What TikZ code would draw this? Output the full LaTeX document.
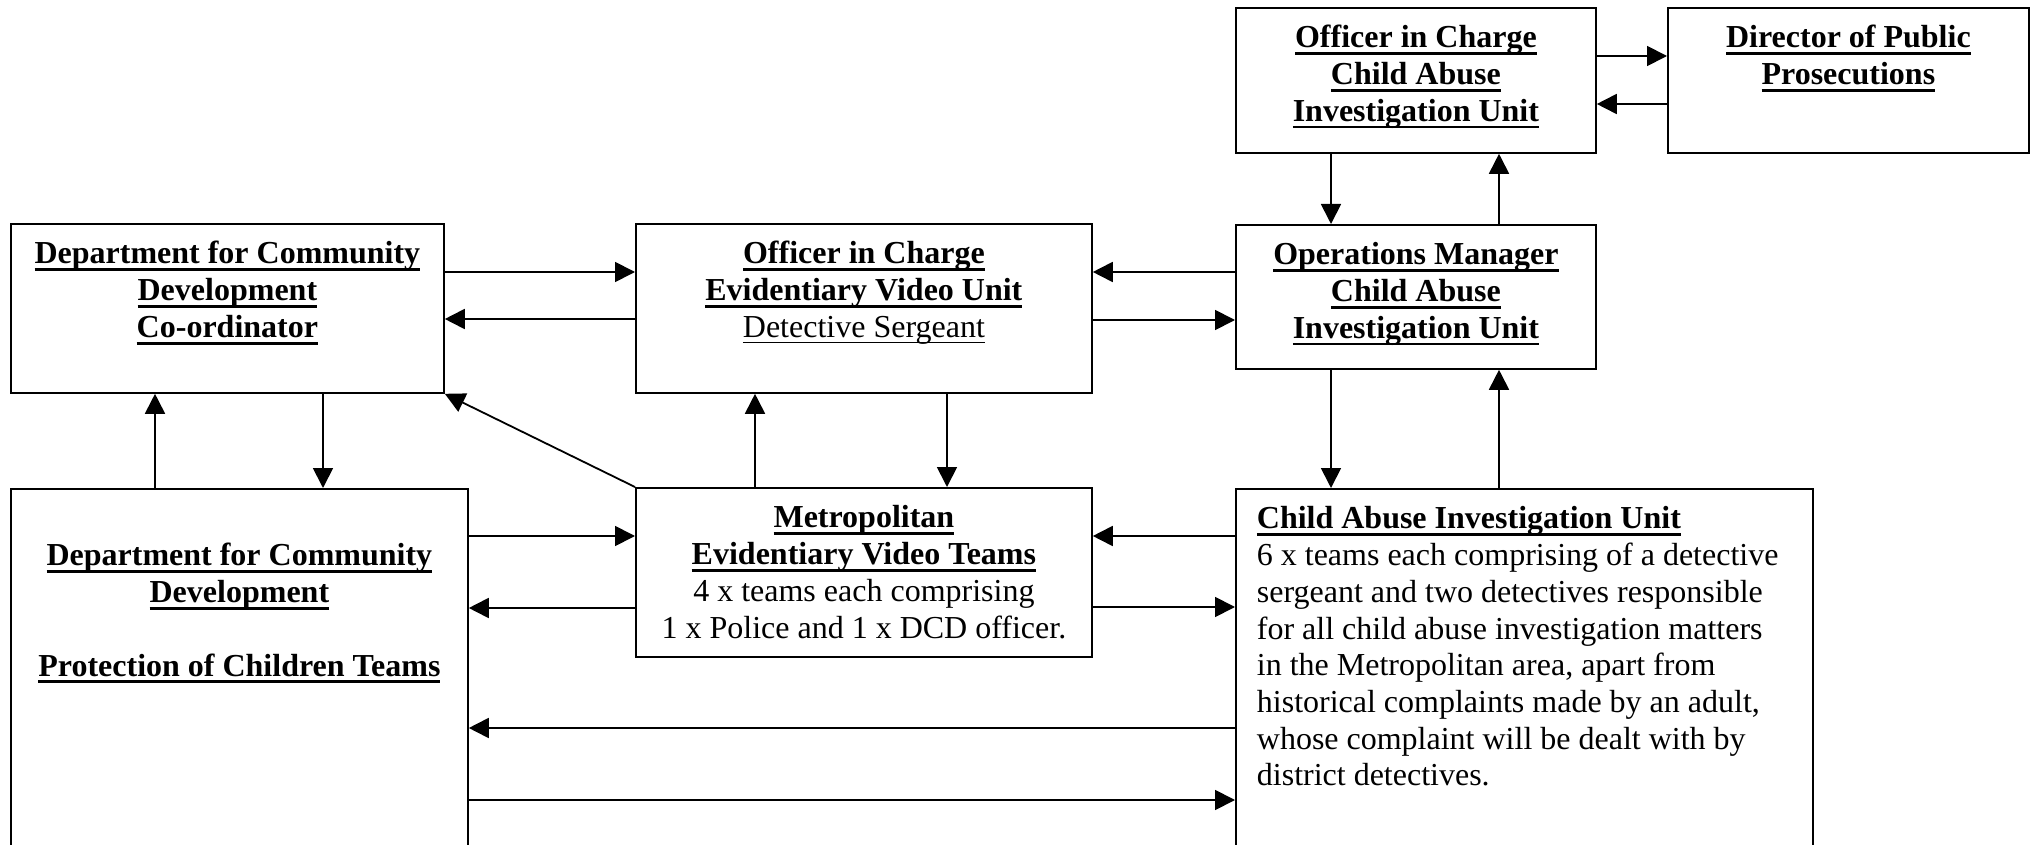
\documentclass[tikz,border=0pt]{standalone}
\usepackage{fontspec}
\setmainfont{Liberation Serif}
\usetikzlibrary{arrows.meta}
\newcommand\ulb[1]{\setbox0\hbox{\bfseries #1}\rlap{\rule[-3.6pt]{\wd0}{1.4pt}}\box0}
\newcommand\uln[1]{\setbox0\hbox{#1}\rlap{\rule[-3pt]{\wd0}{0.7pt}}\box0}
\newcommand\tcline[1]{\hbox to\hsize{\hss#1\hss}}
\newcommand\tlline[1]{\hbox to\hsize{\hskip10.5pt #1\hss}}
\newcommand\boxtxt[4]{\vbox to #2{\hsize=#1\relax\fontsize{16}{18.35}\selectfont
  \baselineskip=18.35pt\lineskiplimit=-1000pt\hbox{}\vskip#3\relax #4\vss}}
\begin{document}
\begin{tikzpicture}[x=0.5pt,y=-0.5pt,
  box/.style={draw, line width=0.9pt, inner sep=0pt, anchor=north west},
  arr/.style={line width=0.9pt, -{Triangle[length=10pt,width=10pt]}}]
\useasboundingbox (0,0) rectangle (2031,845);
\clip (0,0) rectangle (2031,845);

\node[box] (oicc) at (1235,7) {\boxtxt{180pt}{72.5pt}{1.65pt}{%
  \tcline{\ulb{Officer in Charge}}\tcline{\ulb{Child Abuse}}\tcline{\ulb{Investigation Unit}}}};
\node[box] (dpp) at (1667,7) {\boxtxt{180.5pt}{72.5pt}{1.65pt}{%
  \tcline{\ulb{Director of Public}}\tcline{\ulb{Prosecutions}}}};
\node[box] (dcdc) at (10,223) {\boxtxt{216.5pt}{84.5pt}{1.65pt}{%
  \tcline{\ulb{Department for Community}}\tcline{\ulb{Development}}\tcline{\ulb{Co-ordinator}}}};
\node[box] (evu) at (635,223) {\boxtxt{228pt}{84.5pt}{1.65pt}{%
  \tcline{\ulb{Officer in Charge}}\tcline{\ulb{Evidentiary Video Unit}}\tcline{\uln{Detective Sergeant}}}};
\node[box] (ops) at (1235,224) {\boxtxt{180pt}{72pt}{1.65pt}{%
  \tcline{\ulb{Operations Manager}}\tcline{\ulb{Child Abuse}}\tcline{\ulb{Investigation Unit}}}};
\node[box] (pct) at (10,488) {\boxtxt{228.5pt}{181pt}{20.15pt}{%
  \tcline{\ulb{Department for Community}}\tcline{\ulb{Development}}\tcline{}\tcline{\ulb{Protection of Children Teams}}}};
\node[box] (evt) at (635,487) {\boxtxt{228pt}{84.5pt}{1.65pt}{%
  \tcline{\ulb{Metropolitan}}\tcline{\ulb{Evidentiary Video Teams}}\tcline{4 x teams each comprising}\tcline{1 x Police and 1 x DCD officer.}}};
\node[box] (caiu) at (1235,488) {\boxtxt{288.5pt}{181pt}{1.65pt}{%
  \tlline{\ulb{Child Abuse Investigation Unit}}
  \tlline{6 x teams each comprising of a detective}
  \tlline{sergeant and two detectives responsible}
  \tlline{for all child abuse investigation matters}
  \tlline{in the Metropolitan area, apart from}
  \tlline{historical complaints made by an adult,}
  \tlline{whose complaint will be dealt with by}
  \tlline{district detectives.}}};

% top right
\draw[arr] (oicc.east |- 0,56) -- (dpp.west |- 0,56);
\draw[arr] (dpp.west |- 0,104) -- (oicc.east |- 0,104);
\draw[arr] (oicc.south -| 1331,0) -- (ops.north -| 1331,0);
\draw[arr] (ops.north -| 1499,0) -- (oicc.south -| 1499,0);
% middle row
\draw[arr] (dcdc.east |- 0,272) -- (evu.west |- 0,272);
\draw[arr] (evu.west |- 0,319) -- (dcdc.east |- 0,319);
\draw[arr] (ops.west |- 0,272) -- (evu.east |- 0,272);
\draw[arr] (evu.east |- 0,320) -- (ops.west |- 0,320);
% verticals
\draw[arr] (pct.north -| 155,0) -- (dcdc.south -| 155,0);
\draw[arr] (dcdc.south -| 323,0) -- (pct.north -| 323,0);
\draw[arr] (evt.north -| 755,0) -- (evu.south -| 755,0);
\draw[arr] (evu.south -| 947,0) -- (evt.north -| 947,0);
\draw[arr] (ops.south -| 1331,0) -- (caiu.north -| 1331,0);
\draw[arr] (caiu.north -| 1499,0) -- (ops.south -| 1499,0);
\draw[arr] (evt.north west) -- (dcdc.south east);
% bottom row
\draw[arr] (pct.east |- 0,536) -- (evt.west |- 0,536);
\draw[arr] (evt.west |- 0,608) -- (pct.east |- 0,608);
\draw[arr] (caiu.west |- 0,536) -- (evt.east |- 0,536);
\draw[arr] (evt.east |- 0,607) -- (caiu.west |- 0,607);
\draw[arr] (caiu.west |- 0,728) -- (pct.east |- 0,728);
\draw[arr] (pct.east |- 0,800) -- (caiu.west |- 0,800);
\end{tikzpicture}
\end{document}
